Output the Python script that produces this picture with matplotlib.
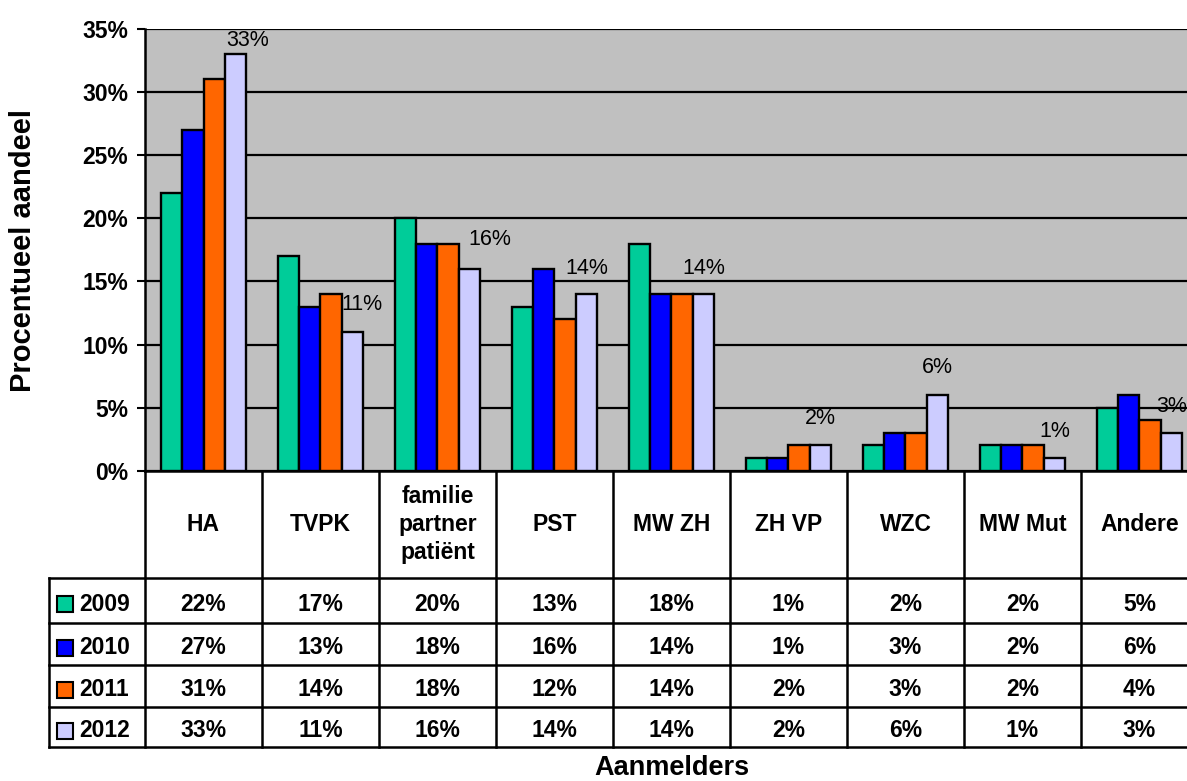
import numpy as np
import matplotlib.pyplot as plt
from matplotlib.patches import Rectangle

plt.rcParams['font.family'] = ['Liberation Sans', 'DejaVu Sans']

# data
categories = ['HA', 'TVPK', 'familie\npartner\npatiënt', 'PST', 'MW ZH',
              'ZH VP', 'WZC', 'MW Mut', 'Andere']
years = ['2009', '2010', '2011', '2012']
v2009 = [22, 17, 20, 13, 18, 1, 2, 2, 5]
v2010 = [27, 13, 18, 16, 14, 1, 3, 2, 6]
v2011 = [31, 14, 18, 12, 14, 2, 3, 2, 4]
v2012 = [33, 11, 16, 14, 14, 2, 6, 1, 3]
series = [v2009, v2010, v2011, v2012]
colors = ['#00CC99', '#0000FF', '#FF6600', '#CCCCFF']

# label offsets for the 2012 series (pixels, dx / dy above bar top)
label_off = [(12, 14), (10, 27), (20, 29), (0, 26), (0, 26),
             (0, 27), (0, 27), (0, 27), (0, 26)]

W, H = 1187, 781
fig = plt.figure(figsize=(W / 100, H / 100), dpi=100)

fs = 16.5
cat_w = 117.0          # pixels per category
x0, y0, ytop = 145, 470.7, 29.0
ax = fig.add_axes([x0 / W, (H - y0) / H, 9 * cat_w / W, (y0 - ytop) / H])

n = len(categories)
x = np.arange(n)
bw = 0.1813
for j, vals in enumerate(series):
    ax.bar(x + (j - 1.5) * bw, vals, width=bw, color=colors[j],
           edgecolor='black', linewidth=1.7, zorder=3)

for i, v in enumerate(v2012):
    dx, dy = label_off[i]
    ax.annotate(f'{v}%', (x[i] + 1.5 * bw, v), xytext=(dx * 0.72, dy * 0.72),
                textcoords='offset points', ha='center', va='center',
                fontsize=15.5, zorder=4)

ax.set_xlim(-0.5, n - 0.5)
ax.set_ylim(0, 35)
ax.set_yticks(range(0, 36, 5))
ax.set_yticklabels([f'{t}%' for t in range(0, 36, 5)], fontsize=fs, fontweight='bold')
ax.set_xticks([])
ax.tick_params(axis='y', direction='out', length=6, width=1.5, pad=6)
ax.set_facecolor('#C0C0C0')
ax.yaxis.grid(True, color='black', linewidth=1.6, zorder=1)
ax.set_axisbelow(True)
for s in ['top', 'right']:
    ax.spines[s].set_visible(False)
for s in ['left', 'bottom']:
    ax.spines[s].set_linewidth(1.8)
    ax.spines[s].set_zorder(5)

# data table below the plot
left_px = 49
tab_bottom = 747.3
tab = fig.add_axes([left_px / W, (H - tab_bottom) / H,
                    (x0 + 9 * cat_w - left_px) / W, (tab_bottom - y0) / H])
xl = -0.5 - (x0 - left_px) / cat_w
tab.set_xlim(xl, n - 0.5)
tab.set_ylim(tab_bottom - y0, 0)
tab.axis('off')

rows = [0, 107.6, 152.3, 194.3, 236.6, 276.6]
lw = 1.8
for b in np.arange(-0.5, n - 0.5):
    tab.plot([b, b], [rows[0], rows[-1]], color='black', lw=lw, clip_on=False)
tab.plot([xl, xl], [rows[1], rows[-1]], color='black', lw=lw, clip_on=False)
for r in rows[1:]:
    tab.plot([xl, n - 0.5], [r, r], color='black', lw=lw, clip_on=False)

for i, c in enumerate(categories):
    tab.text(x[i], (rows[0] + rows[1]) / 2, c, ha='center', va='center',
             fontsize=fs, fontweight='bold', linespacing=1.3)

for j, vals in enumerate(series):
    yc = (rows[j + 1] + rows[j + 2]) / 2 + 3.5
    for i, v in enumerate(vals):
        tab.text(x[i], yc, f'{v}%', ha='center', va='center',
                 fontsize=fs, fontweight='bold')
    kx = xl + (56.7 - left_px) / cat_w
    tab.add_patch(Rectangle((kx, yc - 8), 16 / cat_w, 16, facecolor=colors[j],
                            edgecolor='black', lw=1.5, clip_on=False))
    tab.text(xl + (79 - left_px) / cat_w, yc, years[j], ha='left', va='center',
             fontsize=fs, fontweight='bold')

fig.text(23 / W, 1 - 251 / H, 'Procentueel aandeel', rotation=90,
         ha='center', va='center', fontsize=21, fontweight='bold')
fig.text(672 / W, 1 - 768 / H, 'Aanmelders', ha='center', va='center',
         fontsize=19.5, fontweight='bold')

fig.savefig('out.png', dpi=100)
